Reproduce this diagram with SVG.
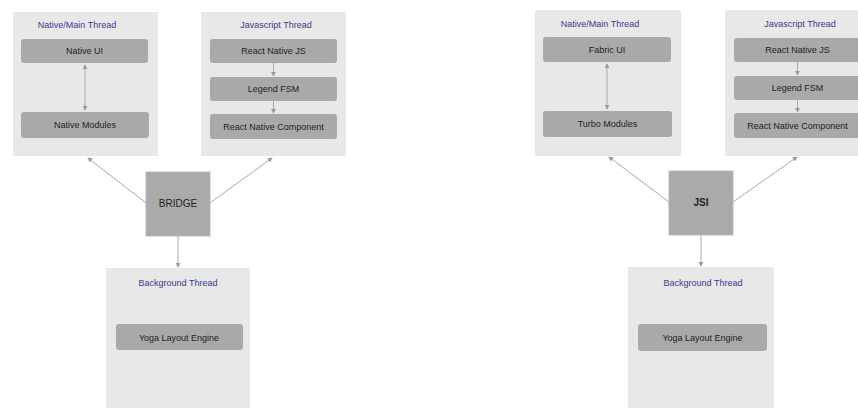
<svg xmlns="http://www.w3.org/2000/svg" width="858" height="408" viewBox="0 0 858 408">
  <style>
    .panel { fill: #e8e8e8; }
    .box { fill: #a9a9a9; }
    .core { fill: #aaaaaa; stroke: #b8b8b8; stroke-width: 1; }
    .title { font-family: "Liberation Sans", Arial, sans-serif; font-size: 9px; fill: #3a3a8c; text-anchor: middle; }
    .label { font-family: "Liberation Sans", Arial, sans-serif; font-size: 9px; fill: #1e1e1e; text-anchor: middle; }
    .core-label { font-family: "Liberation Sans", Arial, sans-serif; font-size: 10px; fill: #222222; text-anchor: middle; }
    .conn { stroke: #a8a8a8; stroke-width: 1; fill: none; }
  </style>
  <defs>
    <marker id="arr" viewBox="0 0 6 6" refX="5" refY="3" markerWidth="5" markerHeight="5" orient="auto-start-reverse" markerUnits="userSpaceOnUse">
      <path d="M0,0 L6,3 L0,6 z" fill="#9a9a9a"/>
    </marker>
  </defs>
  <rect width="858" height="408" fill="#ffffff"/>

  <!-- LEFT DIAGRAM -->
  <g id="left-native-thread">
    <rect class="panel" x="13" y="12" width="145" height="144"/>
    <text class="title" x="77" y="28">Native/Main Thread</text>
  </g>
  <g id="left-native-ui">
    <rect class="box" x="21" y="39" width="127" height="24" rx="3"/>
    <text class="label" x="84.5" y="54">Native UI</text>
  </g>
  <g id="left-native-modules">
    <rect class="box" x="21" y="112" width="128" height="26" rx="3"/>
    <text class="label" x="85" y="128">Native Modules</text>
  </g>
  <g id="left-js-thread">
    <rect class="panel" x="201" y="12" width="145" height="144"/>
    <text class="title" x="276" y="28">Javascript Thread</text>
  </g>
  <g id="left-rn-js">
    <rect class="box" x="210" y="39" width="127" height="24" rx="3"/>
    <text class="label" x="273.5" y="54">React Native JS</text>
  </g>
  <g id="left-legend-fsm">
    <rect class="box" x="210" y="77" width="127" height="24" rx="3"/>
    <text class="label" x="273.5" y="92">Legend FSM</text>
  </g>
  <g id="left-rn-component">
    <rect class="box" x="210" y="114" width="127" height="25" rx="3"/>
    <text class="label" x="273.5" y="129.5">React Native Component</text>
  </g>
  <g id="bridge">
    <rect class="core" x="146" y="172" width="64" height="64"/>
    <text class="core-label" x="178" y="207">BRIDGE</text>
  </g>
  <g id="left-background-thread">
    <rect class="panel" x="106" y="268" width="144" height="140"/>
    <text class="title" x="178" y="286">Background Thread</text>
  </g>
  <g id="left-yoga">
    <rect class="box" x="116" y="324" width="127" height="26" rx="3"/>
    <text class="label" x="179" y="340.5">Yoga Layout Engine</text>
  </g>

  <!-- RIGHT DIAGRAM -->
  <g id="right-native-thread">
    <rect class="panel" x="535" y="10" width="146" height="146"/>
    <text class="title" x="600" y="27">Native/Main Thread</text>
  </g>
  <g id="right-fabric-ui">
    <rect class="box" x="543" y="37" width="128" height="25" rx="3"/>
    <text class="label" x="607" y="52.5">Fabric UI</text>
  </g>
  <g id="right-turbo-modules">
    <rect class="box" x="543" y="111" width="129" height="26" rx="3"/>
    <text class="label" x="607.5" y="127">Turbo Modules</text>
  </g>
  <g id="right-js-thread">
    <rect class="panel" x="725" y="10" width="145" height="146"/>
    <text class="title" x="800" y="27">Javascript Thread</text>
  </g>
  <g id="right-rn-js">
    <rect class="box" x="734" y="38" width="127" height="24" rx="3"/>
    <text class="label" x="797.5" y="53">React Native JS</text>
  </g>
  <g id="right-legend-fsm">
    <rect class="box" x="734" y="76" width="127" height="24" rx="3"/>
    <text class="label" x="797.5" y="91">Legend FSM</text>
  </g>
  <g id="right-rn-component">
    <rect class="box" x="734" y="113" width="127" height="25" rx="3"/>
    <text class="label" x="797.5" y="128.5">React Native Component</text>
  </g>
  <g id="jsi">
    <rect class="core" x="669" y="171" width="64" height="64"/>
    <text class="core-label" x="701" y="206" font-weight="bold">JSI</text>
  </g>
  <g id="right-background-thread">
    <rect class="panel" x="628" y="267" width="146" height="141"/>
    <text class="title" x="703" y="286">Background Thread</text>
  </g>
  <g id="right-yoga">
    <rect class="box" x="638" y="324" width="129" height="27" rx="3"/>
    <text class="label" x="702.5" y="340.5">Yoga Layout Engine</text>
  </g>

  <!-- CONNECTORS -->
  <g id="connectors">
    <line class="conn" x1="85" y1="65" x2="85" y2="110" marker-start="url(#arr)" marker-end="url(#arr)"/>
    <line class="conn" x1="273.5" y1="63" x2="273.5" y2="76" marker-end="url(#arr)"/>
    <line class="conn" x1="273.5" y1="101" x2="273.5" y2="113" marker-end="url(#arr)"/>
    <line class="conn" x1="146" y1="203" x2="88" y2="158" marker-end="url(#arr)"/>
    <line class="conn" x1="210" y1="203" x2="272" y2="158" marker-end="url(#arr)"/>
    <line class="conn" x1="178" y1="236" x2="178" y2="267" marker-end="url(#arr)"/>

    <line class="conn" x1="607" y1="64" x2="607" y2="109" marker-start="url(#arr)" marker-end="url(#arr)"/>
    <line class="conn" x1="797.5" y1="62" x2="797.5" y2="75" marker-end="url(#arr)"/>
    <line class="conn" x1="797.5" y1="100" x2="797.5" y2="112" marker-end="url(#arr)"/>
    <line class="conn" x1="669" y1="202" x2="609" y2="157" marker-end="url(#arr)"/>
    <line class="conn" x1="733" y1="202" x2="797" y2="157" marker-end="url(#arr)"/>
    <line class="conn" x1="701" y1="235" x2="701" y2="266" marker-end="url(#arr)"/>
  </g>
</svg>
